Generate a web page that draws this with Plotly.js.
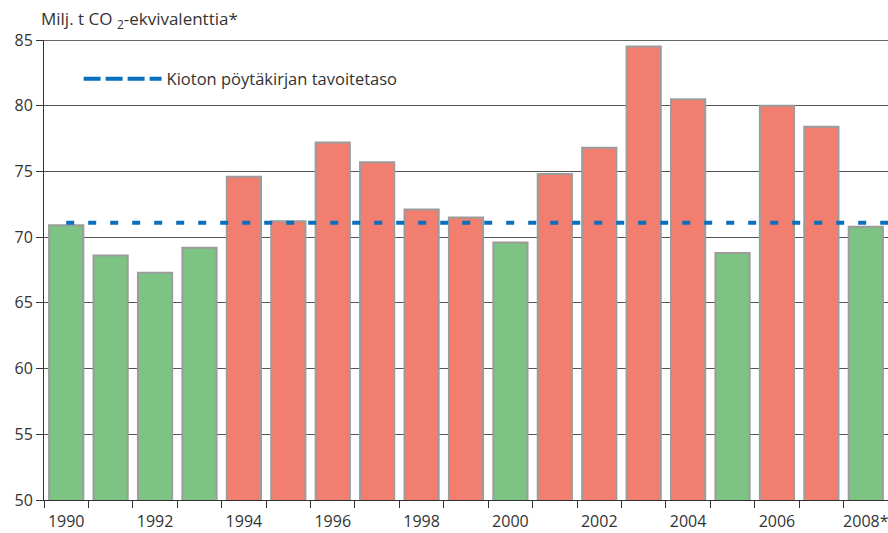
<!DOCTYPE html>
<html>
<head>
<meta charset="utf-8">
<script src="https://cdn.plot.ly/plotly-3.0.1.min.js"></script>
<style>html,body{margin:0;padding:0;background:#fff;}#chart{width:888px;height:533px;}</style>
</head>
<body>
<div id="chart"></div>
<script>
const years = [1990,1991,1992,1993,1994,1995,1996,1997,1998,1999,2000,2001,2002,2003,2004,2005,2006,2007,2008];
const emissions = [70.9,68.6,67.3,69.2,74.6,71.2,77.2,75.7,72.1,71.5,69.6,74.8,76.8,84.5,80.5,68.8,80.0,78.4,70.8];
const kyotoTarget = 71.1;
const tickYears = [1990,1992,1994,1996,1998,2000,2002,2004,2006,2008];
const tickLabels = ['1990','1992','1994','1996','1998','2000','2002','2004','2006','2008*'];
const yTicks = [50,55,60,65,70,75,80,85];
const seriesName = 'Kioton pöytäkirjan tavoitetaso';
const yTitle = 'Milj. t CO <sub>2</sub>-ekvivalenttia*';

const GREEN = '#7dc484', RED = '#f17e6e', BLUE = '#0a6fbd';
const colors = emissions.map(v => v > kyotoTarget ? RED : GREEN);
const boundaries = years.map(y => y - 0.5).concat([years[years.length-1] + 0.5]);
const FONT = 'Open Sans, Liberation Sans, sans-serif';

const traces = [
  {
    type: 'bar', x: years, y: emissions, base: 0, width: 0.77,
    marker: {color: colors, line: {color: '#9c9c9c', width: 2}},
    showlegend: false, hoverinfo: 'x+y'
  },
  {
    type: 'scatter', mode: 'lines', name: seriesName,
    x: [years[0], years[years.length-1] + 0.5], y: [kyotoTarget, kyotoTarget],
    line: {color: BLUE, width: 4, dash: '8px,14px'},
    showlegend: false
  },
  {
    type: 'scatter', mode: 'lines', name: seriesName,
    x: [null], y: [null],
    line: {color: BLUE, width: 4, dash: '17px,5px'},
    showlegend: true
  },
  {
    type: 'scatter', mode: 'markers', x: tickYears, y: [50], xaxis: 'x2',
    marker: {opacity: 0}, showlegend: false, hoverinfo: 'skip'
  }
];

const layout = {
  width: 888, height: 533,
  margin: {l: 44, r: 0, t: 40, b: 33},
  paper_bgcolor: '#fff', plot_bgcolor: '#fff',
  font: {family: FONT, size: 16, color: '#333'},
  title: {
    text: yTitle, xref: 'container', yref: 'container',
    x: 41/888, xanchor: 'left', y: 1 - 19/533, yanchor: 'middle',
    font: {family: FONT, size: 17, color: '#333'}
  },
  showlegend: true,
  legend: {
    x: 0.041, y: 0.915, xanchor: 'left', yanchor: 'middle',
    bgcolor: 'rgba(0,0,0,0)', itemwidth: 78,
    font: {family: FONT, size: 16.5, color: '#333'}
  },
  xaxis: {
    range: [years[0] - 0.5, years[years.length-1] + 0.5],
    tickmode: 'array', tickvals: boundaries, ticktext: boundaries.map(() => ''),
    ticks: 'outside', ticklen: 7, tickcolor: '#333', tickwidth: 1,
    showgrid: false, zeroline: false,
    showline: true, linecolor: '#333', linewidth: 1
  },
  xaxis2: {
    overlaying: 'x', anchor: 'y', side: 'bottom',
    range: [years[0] - 0.5, years[years.length-1] + 0.5],
    tickmode: 'array', tickvals: tickYears, ticktext: tickLabels,
    ticks: 'outside', ticklen: 7, tickcolor: 'rgba(0,0,0,0)',
    ticklabeloverflow: 'allow',
    showgrid: false, zeroline: false, showline: false,
    tickfont: {family: FONT, size: 16, color: '#333'}
  },
  yaxis: {
    range: [50, 85], tickmode: 'array', tickvals: yTicks,
    ticks: 'outside', ticklen: 7, tickcolor: '#333',
    showgrid: true, gridcolor: '#555', gridwidth: 1,
    zeroline: false, showline: true, linecolor: '#333', linewidth: 1,
    tickfont: {family: FONT, size: 16, color: '#333'}
  },
  shapes: [{
    type: 'line', xref: 'paper', yref: 'y', x0: 0, x1: 1, y0: yTicks[yTicks.length-1], y1: yTicks[yTicks.length-1],
    line: {color: '#333', width: 1.5}, layer: 'above'
  }]
};

Plotly.newPlot('chart', traces, layout, {displayModeBar: false, staticPlot: true});
</script>
</body>
</html>
